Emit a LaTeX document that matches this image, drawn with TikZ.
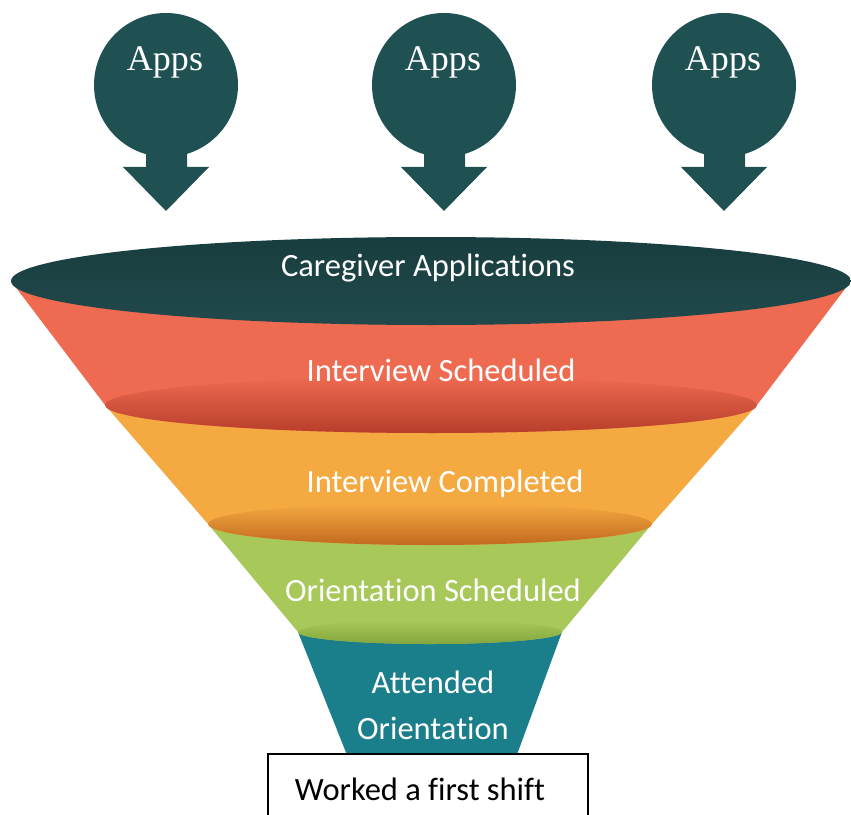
\documentclass[tikz,border=0pt]{standalone}
\usepackage{fontspec}
\setmainfont{Carlito}[Ligatures=NoCommon]
\newfontfamily\appsfont{Liberation Serif}
\usepackage{xcolor}

\definecolor{pinteal}{HTML}{1F5153}
\definecolor{toplight}{HTML}{21494B}
\definecolor{topdark}{HTML}{183D3F}
\definecolor{redband}{HTML}{EE6A50}
\definecolor{reddark}{HTML}{B73E2B}
\definecolor{orangeband}{HTML}{F4AA41}
\definecolor{orangedark}{HTML}{C2691F}
\definecolor{greenband}{HTML}{A8C85A}
\definecolor{greendark}{HTML}{84A63C}
\definecolor{tealband}{HTML}{1B7E8B}

\begin{document}
\begin{tikzpicture}[x=0.02cm,y=-0.02cm,
  pin/.style={fill=pinteal},
  appslbl/.style={text=white,font=\appsfont\fontsize{20.5}{24}\selectfont},
  bandlbl/.style={text=white,align=center,font=\fontsize{18.5}{26}\selectfont},
  shiftbox/.style={draw=black,line width=1pt,fill=white,minimum width=6.4cm,
    minimum height=1.4cm,font=\fontsize{18.5}{22}\selectfont}]
\useasboundingbox (0,0) rectangle (851,814);
\clip (0,0) rectangle (851,814);

% the three pins
\fill[pin] (166,85) circle (72) (146,140) -- (187,140) -- (187,167) -- (209,167)
  -- (166,211) -- (123,167) -- (146,167) -- cycle;
\fill[pin] (444,85) circle (72) (424,140) -- (465,140) -- (465,167) -- (487,167)
  -- (444,211) -- (401,167) -- (424,167) -- cycle;
\fill[pin] (724,85) circle (72) (704,140) -- (745,140) -- (745,167) -- (767,167)
  -- (724,211) -- (681,167) -- (704,167) -- cycle;
\node[appslbl] (apps1) at (165,62) {Apps};
\node[appslbl] (apps2) at (443,62) {Apps};
\node[appslbl] (apps3) at (723,62) {Apps};

% funnel, bottom band first
\fill[tealband] (298,632) -- (349,760) -- (515,760) -- (562,632) -- cycle;
\fill[greenband] (208,524) -- (298,632) arc[start angle=180,end angle=0,x radius=132,y radius=12]
  -- (652,524) -- cycle;
\shade[top color=greenband,middle color=greenband,bottom color=greendark]
  (430,632) ellipse[x radius=132,y radius=12];
\fill[orangeband] (105,405) -- (208,524) arc[start angle=180,end angle=0,x radius=222,y radius=21]
  -- (757,405) -- cycle;
\shade[top color=orangeband,middle color=orangeband!85!orangedark,bottom color=orangedark]
  (430,524) ellipse[x radius=222,y radius=21];
\fill[redband] (11,281) -- (105,405) arc[start angle=180,end angle=0,x radius=326,y radius=28]
  -- (851,281) -- cycle;
\shade[top color=redband,middle color=redband!85!reddark,bottom color=reddark]
  (431,405) ellipse[x radius=326,y radius=28];
\shade[top color=topdark,bottom color=toplight] (431,281) ellipse[x radius=420,y radius=44];

% stage labels
\node[bandlbl] (care) at (428,268) {Caregiver Applications};
\node[bandlbl] (sched) at (441,370) {Interview Scheduled};
\node[bandlbl] (done) at (445,484) {Interview Completed};
\node[bandlbl] (orient) at (433,590) {Orientation Scheduled};
\node[bandlbl] (attend) at (433,705) {Attended\\Orientation};

\node[shiftbox] (shift) at (428,789) {\hspace*{-0.32cm}Worked a first shift};
\end{tikzpicture}
\end{document}
